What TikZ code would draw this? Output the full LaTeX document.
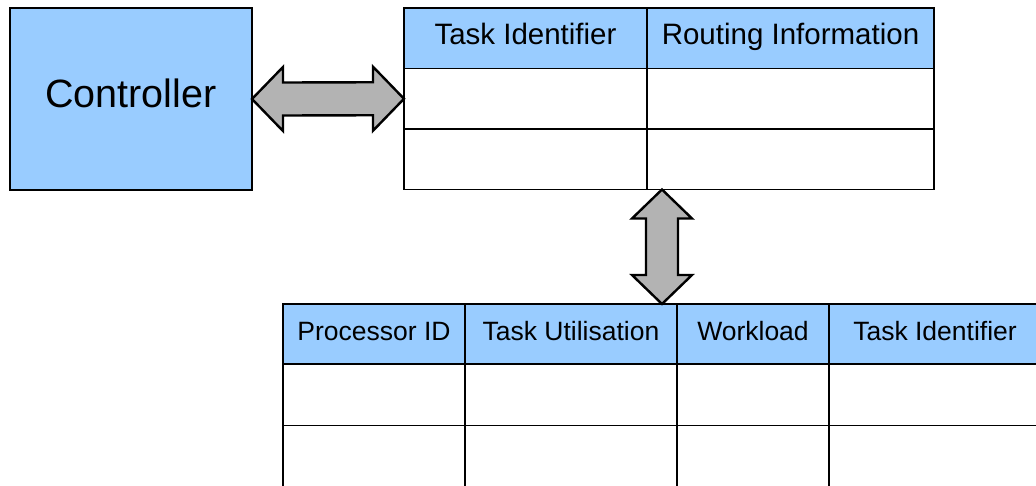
\documentclass[tikz,border=0pt]{standalone}
\usepackage{fontspec}
\setmainfont{Liberation Sans}
\usetikzlibrary{calc}
\definecolor{cellblue}{RGB}{153,204,255}
\definecolor{arrowgray}{RGB}{179,179,179}
\tikzset{
  ctrlbox/.style={draw=black, line width=2.3pt, fill=cellblue, minimum width=242pt,
    minimum height=182pt, inner sep=0pt, outer sep=0pt, anchor=north west,
    font=\fontsize{39.5}{42}\selectfont, text height=28pt, text depth=12pt},
  cell/.style={draw=black, line width=1.1pt, inner sep=0pt, outer sep=0pt,
    anchor=north west, minimum height=60.5pt},
  headtop/.style={cell, fill=cellblue, font=\fontsize{29.5}{32}\selectfont,
    text height=20pt, text depth=8pt},
  headbot/.style={cell, fill=cellblue, minimum height=60pt,
    font=\fontsize{26.5}{30}\selectfont, text height=20pt, text depth=8pt},
  rowbot/.style={cell, minimum height=61.5pt},
  blockarrow/.style={draw=black, fill=arrowgray, line width=2.4pt, line join=miter}
}
\begin{document}
\begin{tikzpicture}[x=1pt, y=-1pt]
\useasboundingbox (0,0) rectangle (1036,485);
\clip (0,0) rectangle (1036,485);

% controller block
\node[ctrlbox] (ctrl) at (10,8) {Controller};

% routing table
\node[headtop, minimum width=243pt] (th1) at (404,8) {Task Identifier};
\node[headtop, minimum width=287pt] (th2) at (th1.north east) {Routing Information};
\node[cell, minimum width=243pt] (r11) at (th1.south west) {};
\node[cell, minimum width=287pt] (r12) at (th2.south west) {};
\node[cell, minimum width=243pt] (r21) at (r11.south west) {};
\node[cell, minimum width=287pt] (r22) at (r12.south west) {};

% processor table
\node[headbot, minimum width=182pt] (bh1) at (283,304) {Processor ID};
\node[headbot, minimum width=212pt] (bh2) at (bh1.north east) {Task Utilisation};
\node[headbot, minimum width=152pt] (bh3) at (bh2.north east) {Workload};
\node[headbot, minimum width=212pt] (bh4) at (bh3.north east) {Task Identifier};
\foreach \c/\w in {1/182,2/212,3/152,4/212}{
  \node[rowbot, minimum width=\w pt] (b1\c) at (bh\c.south west) {};
  \node[rowbot, minimum width=\w pt] (b2\c) at (b1\c.south west) {};
}

% link between controller and routing table
\draw[blockarrow] (ctrl.east) -- ($(ctrl.east)+(31,-32)$) -- ($(ctrl.east)+(31,-16.5)$)
  -- ($(r11.west)+(-31,-16.5)$) -- ($(r11.west)+(-31,-32)$) -- (r11.west)
  -- ($(r11.west)+(-31,32)$) -- ($(r11.west)+(-31,16.5)$)
  -- ($(ctrl.east)+(31,16.5)$) -- ($(ctrl.east)+(31,32)$) -- cycle;

% link between routing table and processor table
\coordinate (vt) at ($(r22.south west)+(15,0)$);
\coordinate (vb) at ($(bh2.north east)+(-15,0)$);
\draw[blockarrow] (vt) -- ($(vt)+(30,29)$) -- ($(vt)+(16,29)$)
  -- ($(vb)+(16,-29)$) -- ($(vb)+(30,-29)$) -- (vb)
  -- ($(vb)+(-30,-29)$) -- ($(vb)+(-16,-29)$)
  -- ($(vt)+(-16,29)$) -- ($(vt)+(-30,29)$) -- cycle;
\end{tikzpicture}
\end{document}
